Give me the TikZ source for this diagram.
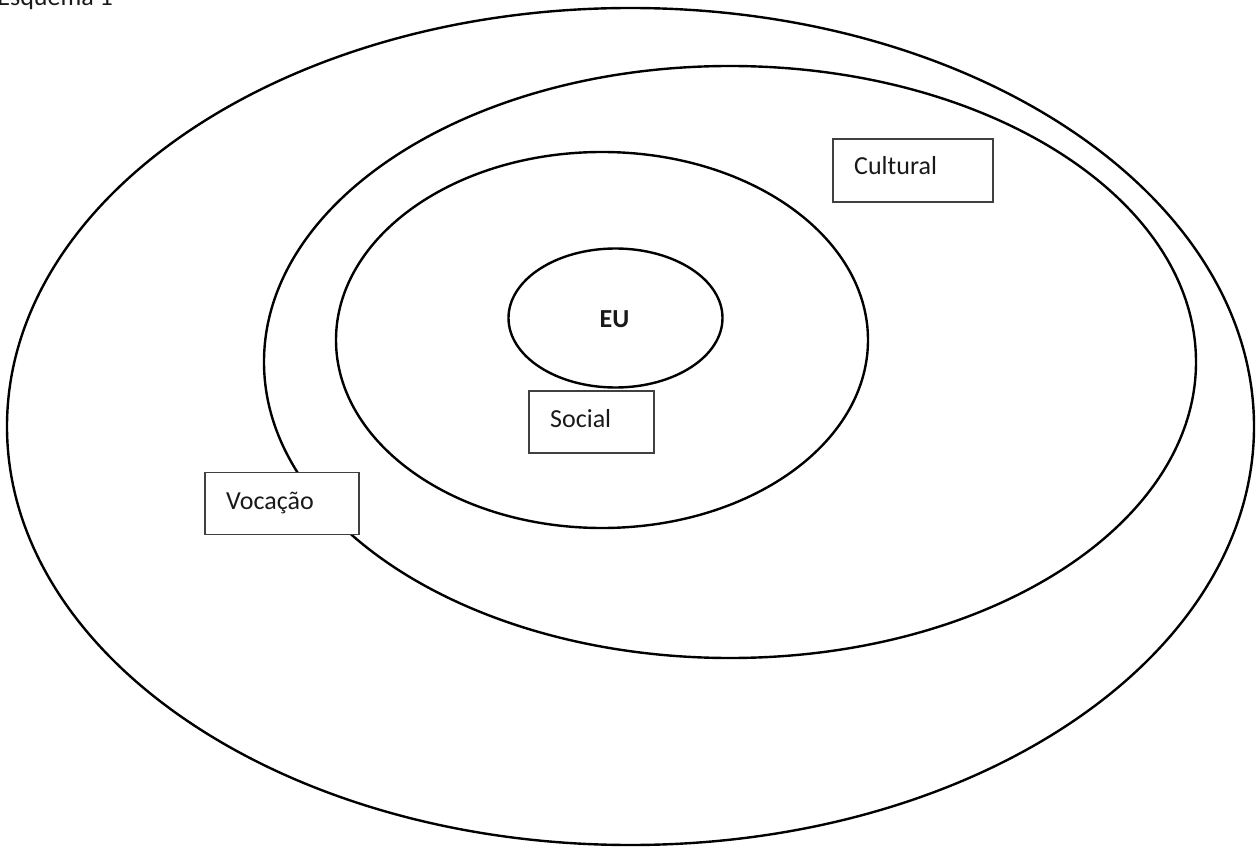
\documentclass[tikz,border=0pt]{standalone}
\usepackage{fontspec}
\setmainfont{Carlito}
\usetikzlibrary{shapes.geometric}
\tikzset{
  ring/.style={draw=black, line width=2.4pt, ellipse, inner sep=0pt},
  labelbox/.style={draw=black!75, line width=1.5pt, fill=white, rectangle, inner sep=0pt},
  txt/.style={font=\fontsize{26}{31}\selectfont, inner sep=0pt, text=black!90}
}
\begin{document}
\begin{tikzpicture}[x=1pt,y=-1pt]
\useasboundingbox (0,0) rectangle (1256,850);
% rings
\node[ring, minimum width=1247pt, minimum height=837pt] (outer) at (630.5,426.5) {};
\node[ring, minimum width=932pt, minimum height=592pt] (cultring) at (730,362) {};
\node[ring, minimum width=532pt, minimum height=376pt] (socring) at (602,340) {};
\node[ring, minimum width=214pt, minimum height=139pt] (eu) at (615.5,318) {};
\node[txt, font=\fontsize{26}{31}\selectfont\bfseries, anchor=base] (eulabel) at (614.5,328) {EU};
% boxes
\node[labelbox, minimum width=160pt, minimum height=63pt] (cultbox) at (913,170.5) {};
\node[labelbox, minimum width=125pt, minimum height=62pt] (socbox) at (591.5,422) {};
\node[labelbox, minimum width=154pt, minimum height=62pt] (vocbox) at (282,503.5) {};
\node[txt, anchor=base west] (culttxt) at (854,175) {Cultural};
\node[txt, anchor=base west] (soctxt) at (550,427) {Social};
\node[txt, anchor=base west] (voctxt) at (226,509) {Vocação};
% title
\node[txt, anchor=base east] (title) at (113,6) {Esquema 1};
\end{tikzpicture}
\end{document}
